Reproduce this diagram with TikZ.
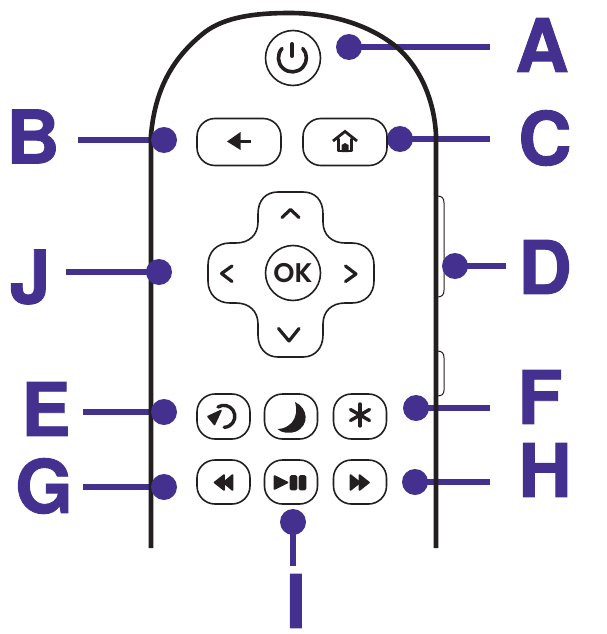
\documentclass[tikz,border=0pt]{standalone}
\usepackage{fontspec}
\setmainfont{TeX Gyre Heros}
\newfontface\heavyface{TeX Gyre Heros Bold}[FakeBold=1.2]
\newfontface\okface{Poppins SemiBold}
\definecolor{purp}{HTML}{44308F}
\definecolor{ink}{HTML}{231F20}
\tikzset{
  pen/.style={draw=ink,line width=1.6pt,fill=white},
  keybox/.style={pen,rounded corners=18pt},
  dot/.style={circle,fill=purp,minimum size=26pt,inner sep=0pt},
  lead/.style={draw=purp,line width=6pt},
  letter/.style={text=purp,font=\fontsize{74}{74}\selectfont\heavyface,inner sep=0pt},
  icon/.style={draw=ink,line width=3.2pt,line cap=round,line join=round},
  solid ink/.style={fill=ink,draw=ink,line width=1.6pt,line join=round},
  case/.style={draw=ink,line width=4.6pt}
}
\begin{document}
\begin{tikzpicture}[x=1pt,y=-1pt]
\useasboundingbox (0,0) rectangle (607,634);
% free ends of leaders
\coordinate (ea) at (490,47);
\coordinate (eb) at (78,140);
\coordinate (ec) at (490,139);
\coordinate (ed) at (506,266);
\coordinate (ej) at (66,272);
\coordinate (ee) at (83,412);
\coordinate (ef) at (490,408);
\coordinate (eg) at (83,487);
\coordinate (eh) at (490,482);
\coordinate (ei) at (293,566);
\coordinate (da) at (349,47);
\coordinate (db) at (164,140);
\coordinate (dc) at (400,139);
\coordinate (dd) at (455,266);
\coordinate (dj) at (159,272);
\coordinate (de) at (164,412);
\coordinate (df) at (416,408);
\coordinate (dg) at (164,487);
\coordinate (dh) at (415,482);
\coordinate (di) at (293,522);
\foreach \p/\q in {ea/da,eb/db,ec/dc,ed/dd,ej/dj,ee/de,ef/df,eg/dg,eh/dh,ei/di}
  \draw[lead] (\p) -- (\q);
% side buttons
\draw[draw=ink,line width=1pt] (437,196) .. controls (442,196) and (444,198) .. (444,203) -- (444,290) .. controls (444,295) and (442,297) .. (437,297);
\draw[draw=ink,line width=1pt] (437,351) .. controls (442,351) and (444,353) .. (444,358) -- (444,390) .. controls (444,394) and (442,396) .. (437,396);
% case
\draw[case] (151,548) -- (151,135) .. controls (155,90) and (172,58) .. (205,32)
  .. controls (225,17) and (255,13) .. (290,13)
  .. controls (325,13) and (362,22) .. (390,42)
  .. controls (416,60) and (434,95) .. (436,135) -- (436,548);
% dots
\foreach \q/\n in {da/a,db/b,dc/c,dd/d,dj/j,de/e,df/f,dg/g,dh/h,di/i}
  \node[dot] (dot\n) at (\q) {};
% power
\node[pen,circle,minimum size=55pt,inner sep=0pt] (power) at (293,58) {};
\draw[icon,line width=3.6pt] (282,48.5) arc[start angle=222,end angle=-42,radius=14];
\draw[icon,line width=4pt] (292,44) -- (292,56);
% back and home
\node[keybox,minimum width=84pt,minimum height=47pt,inner sep=0pt] (back) at (239,142) {};
\node[keybox,minimum width=84pt,minimum height=47pt,inner sep=0pt] (home) at (345,142) {};
\fill[ink] (227,141.5) -- (240.5,132) -- (240.5,150) -- cycle;
\fill[ink] (239,140) rectangle (251,143);
\draw[icon,line width=2.8pt,line cap=butt,line join=miter] (333,141) -- (345,131.5) -- (357,141);
\draw[icon,line width=2.8pt] (338.5,139) -- (338.5,151) -- (351.5,151) -- (351.5,139);
\fill[ink] (341.5,152) -- (341.5,145) -- (345,143) -- (348.5,145) -- (348.5,152) -- cycle;
% d-pad
\draw[pen] (258,214) .. controls (258,200) and (266,192) .. (278,192) -- (303,192)
  .. controls (315,192) and (323,200) .. (323,214) -- (323,222)
  .. controls (323,235) and (332,243) .. (345,243) -- (352,243)
  .. controls (365,243) and (374,252) .. (374,265) -- (374,281)
  .. controls (374,294) and (365,303) .. (352,303) -- (345,303)
  .. controls (332,303) and (323,311) .. (323,324) -- (323,335)
  .. controls (323,348) and (315,357) .. (303,357) -- (278,357)
  .. controls (266,357) and (258,348) .. (258,335) -- (258,324)
  .. controls (258,311) and (249,303) .. (236,303) -- (230,303)
  .. controls (217,303) and (208,294) .. (208,281) -- (208,265)
  .. controls (208,252) and (217,243) .. (230,243) -- (236,243)
  .. controls (249,243) and (258,235) .. (258,222) -- cycle;
\node[pen,circle,minimum size=55pt,inner sep=0pt,font=\fontsize{27}{27}\selectfont\okface,text=ink] (ok) at (293,273) {OK};
\draw[icon] (282,217.5) -- (290.5,209.5) -- (299,217.5);
\draw[icon] (278.5,328.5) -- (289,341) -- (299,328.5);
\draw[icon] (232,266) -- (221.5,273.5) -- (232,281.5);
\draw[icon] (345.5,266) -- (356,274) -- (345.5,281.5);
% upper row
\node[keybox,minimum width=53pt,minimum height=45pt,inner sep=0pt] (replay) at (223.5,416.5) {};
\node[keybox,minimum width=53pt,minimum height=45pt,inner sep=0pt] (moon) at (291,416.5) {};
\node[keybox,minimum width=53pt,minimum height=45pt,inner sep=0pt] (star) at (360,416.5) {};
\draw[icon,line width=3.4pt] (218,407) arc[start angle=-122,end angle=88,radius=11];
\fill[solid ink] (208,416.5) -- (221,410.5) -- (214.5,424.5) -- cycle;
\fill[ink] (295,402) .. controls (308,408) and (310,425) .. (296,431.5) .. controls (290,434) and (281,433) .. (277.5,429) .. controls (288,429) and (300,420) .. cycle;
\draw[icon,line width=3.4pt] (360,404) -- (360,426);
\draw[icon,line width=3.4pt] (350.5,409.5) -- (369.5,420.5);
\draw[icon,line width=3.4pt] (350.5,420.5) -- (369.5,409.5);
% lower row
\node[keybox,minimum width=53pt,minimum height=44pt,inner sep=0pt] (rew) at (223.5,482) {};
\node[keybox,minimum width=53pt,minimum height=44pt,inner sep=0pt] (play) at (291,482) {};
\node[keybox,minimum width=53pt,minimum height=44pt,inner sep=0pt] (fwd) at (360,482) {};
\fill[solid ink] (214.5,482.5) -- (224,475) -- (224,490) -- cycle;
\fill[solid ink] (223.5,482.5) -- (232.5,475) -- (232.5,490) -- cycle;
\fill[solid ink] (274.5,476) -- (287.5,482.5) -- (274.5,489) -- cycle;
\fill[solid ink,rounded corners=1pt] (290.5,476) rectangle (296.5,489.5);
\fill[solid ink,rounded corners=1pt] (299.5,476) rectangle (305.5,489.5);
\fill[solid ink] (350.5,475) -- (360,482.5) -- (350.5,490) -- cycle;
\fill[solid ink] (359.5,475) -- (369,482.5) -- (359.5,490) -- cycle;
% letters
\node[letter] (la) at (542,45) {A};
\node[letter] (lb) at (33,136.5) {B};
\node[letter] (lc) at (545,138) {C};
\node[letter] (ld) at (545,267) {D};
\node[letter] (lj) at (30,277) {J};
\node[letter] (le) at (46,409) {E};
\node[letter] (lf) at (540,397) {F};
\node[letter] (lg) at (44,486) {G};
\node[letter] (lh) at (545,470) {H};
\node[letter] (li) at (296,601) {I};
\end{tikzpicture}
\end{document}
